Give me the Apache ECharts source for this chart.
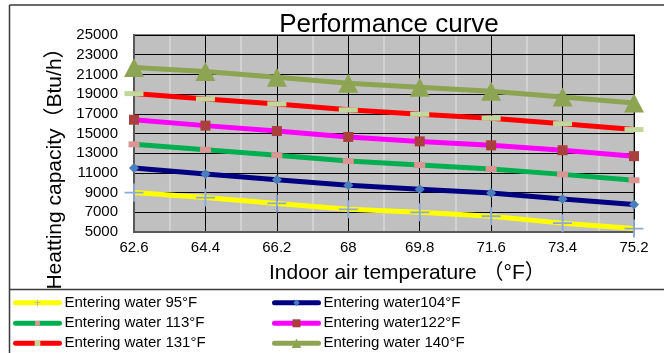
<!DOCTYPE html>
<html>
<head>
<meta charset="utf-8">
<title>Performance curve</title>
<script src="https://cdn.jsdelivr.net/npm/echarts@6/dist/echarts.min.js"></script>
<style>
  html, body { margin: 0; padding: 0; background: #ffffff; }
  #chart { width: 664px; height: 353px; }
</style>
</head>
<body>
<div id="chart"></div>
<script>
// Indoor air temperature (°F) categories
var temps = ['62.6', '64.4', '66.2', '68', '69.8', '71.6', '73.4', '75.2'];

// Heating capacity (Btu/h) for each entering water temperature
var water95  = [9000, 8500, 7900, 7300, 7000, 6600, 5900, 5350];
var water104 = [11500, 10900, 10300, 9750, 9350, 8950, 8350, 7800];
var water113 = [13900, 13350, 12800, 12200, 11800, 11400, 10850, 10250];
var water122 = [16400, 15800, 15250, 14650, 14200, 13800, 13300, 12700];
var water131 = [19050, 18500, 18000, 17400, 16950, 16550, 16000, 15400];
var water140 = [21700, 21300, 20700, 20100, 19700, 19300, 18700, 18100];

// Series names
var names = [
  'Entering water 95°F',
  'Entering water104°F',
  'Entering water 113°F',
  'Entering water122°F',
  'Entering water 131°F',
  'Entering water 140°F'
];

// Y axis ticks
var yMin = 5000, yMax = 25000, yStep = 2000;

// Half-step positions for the light vertical grid lines
var halfSteps = [];
for (var i = 0; i < temps.length * 2 - 1; i++) halfSteps.push(String(i));

var FONT = '"Liberation Sans", Arial, "Noto Sans CJK SC", sans-serif';
var plusPath = 'path://M0,9L20,9L20,11L0,11ZM9,0L11,0L11,20L9,20Z';

function lineSeries(name, data, lineColor, symbol, symbolSize, symbolColor) {
  return {
    name: name,
    type: 'line',
    data: data,
    xAxisIndex: 0,
    yAxisIndex: 0,
    symbol: symbol,
    symbolSize: symbolSize,
    showAllSymbol: true,
    clip: false,
    lineStyle: { color: lineColor, width: 5 },
    itemStyle: { color: symbolColor, borderWidth: 0 },
    emphasis: { disabled: true }
  };
}

// One legend block per entry: two columns, three rows
function legendItem(name, left, rowCenter, iconSize) {
  return {
    data: [name],
    left: left,
    top: rowCenter - 9,
    padding: 0,
    itemWidth: 44,
    itemHeight: iconSize,
    selectedMode: false,
    lineStyle: { width: 5, cap: 'round' },
    textStyle: { color: '#000', fontSize: 15, lineHeight: 18, fontFamily: FONT }
  };
}

var chart = echarts.init(document.getElementById('chart'), null, { renderer: 'canvas' });

chart.setOption({
  animation: false,
  backgroundColor: '#ffffff',
  textStyle: { fontFamily: FONT },
  grid: {
    left: 134, right: 30, top: 35, bottom: 121,
    show: true,
    backgroundColor: '#C0C0C0',
    borderColor: '#808080',
    borderWidth: 2
  },
  xAxis: [
    {
      type: 'category',
      data: temps,
      boundaryGap: false,
      z: 1,
      axisLine: { show: true, lineStyle: { color: '#595959', width: 2 } },
      axisTick: { show: false },
      axisLabel: { color: '#000', fontSize: 15, margin: 8, fontFamily: FONT },
      splitLine: { show: true, lineStyle: { color: '#000', width: 1 } }
    },
    {
      type: 'category',
      data: halfSteps,
      boundaryGap: false,
      position: 'bottom',
      z: 0,
      axisLine: { show: false },
      axisTick: { show: false },
      axisLabel: { show: false },
      splitLine: {
        show: true,
        interval: function (idx) { return idx % 2 === 1; },
        lineStyle: { color: '#D2D2D2', width: 2 }
      }
    }
  ],
  yAxis: {
    type: 'value',
    min: yMin,
    max: yMax,
    interval: yStep,
    z: 1,
    axisLine: { show: true, lineStyle: { color: '#595959', width: 2 } },
    axisTick: { show: false },
    axisLabel: {
      color: '#000', fontSize: 15, margin: 16, fontFamily: FONT,
      formatter: function (v) { return String(v); }
    },
    splitLine: { show: true, lineStyle: { color: '#000', width: 1 } }
  },
  legend: [
    legendItem(names[0], 13, 302.7, 8),
    legendItem(names[2], 13, 323.3, 6),
    legendItem(names[4], 13, 343.3, 7),
    legendItem(names[1], 272, 302.7, 8),
    legendItem(names[3], 272, 323.3, 10),
    legendItem(names[5], 272, 343.3, 12)
  ],
  graphic: [
    // chart frame
    { type: 'line', shape: { x1: 9.5, y1: 5, x2: 664, y2: 5 }, style: { stroke: '#3a3a3a', lineWidth: 1.5 }, silent: true },
    { type: 'line', shape: { x1: 9.5, y1: 5, x2: 9.5, y2: 353 }, style: { stroke: '#3a3a3a', lineWidth: 1.5 }, silent: true },
    { type: 'line', shape: { x1: 9.5, y1: 289.5, x2: 664, y2: 289.5 }, style: { stroke: '#3a3a3a', lineWidth: 1.5 }, silent: true },
    // chart title
    {
      type: 'text', x: 389, y: 24.5, z: 10, silent: true,
      style: { text: 'Performance curve', fill: '#000', font: '26px ' + FONT, textAlign: 'center', textVerticalAlign: 'middle' }
    },
    // y axis title
    {
      type: 'text', x: 55, y: 163.5, rotation: Math.PI / 2, silent: true,
      style: { text: 'Heatting capacity（Btu/h）', fill: '#000', font: '21px ' + FONT, textAlign: 'center', textVerticalAlign: 'middle' }
    },
    // x axis title
    {
      type: 'text', x: 269, y: 273, silent: true,
      style: { text: 'Indoor air temperature （°F）', fill: '#000', font: '21px ' + FONT, textAlign: 'left', textVerticalAlign: 'middle' }
    }
  ],
  series: [
    lineSeries(names[0], water95, '#FFFF00', plusPath, [19, 18], '#8EA8D8'),
    lineSeries(names[1], water104, '#000080', 'diamond', [10, 10], '#4A7EBB'),
    lineSeries(names[2], water113, '#00B050', 'rect', [11, 6], '#D99694'),
    lineSeries(names[3], water122, '#FF00FF', 'rect', [10, 10], '#A9403D'),
    lineSeries(names[4], water131, '#FF0000', 'rect', [19, 5], '#C3D69B'),
    lineSeries(names[5], water140, '#8DA453', 'triangle', [20, 19], '#8DA453')
  ]
});
</script>
</body>
</html>
